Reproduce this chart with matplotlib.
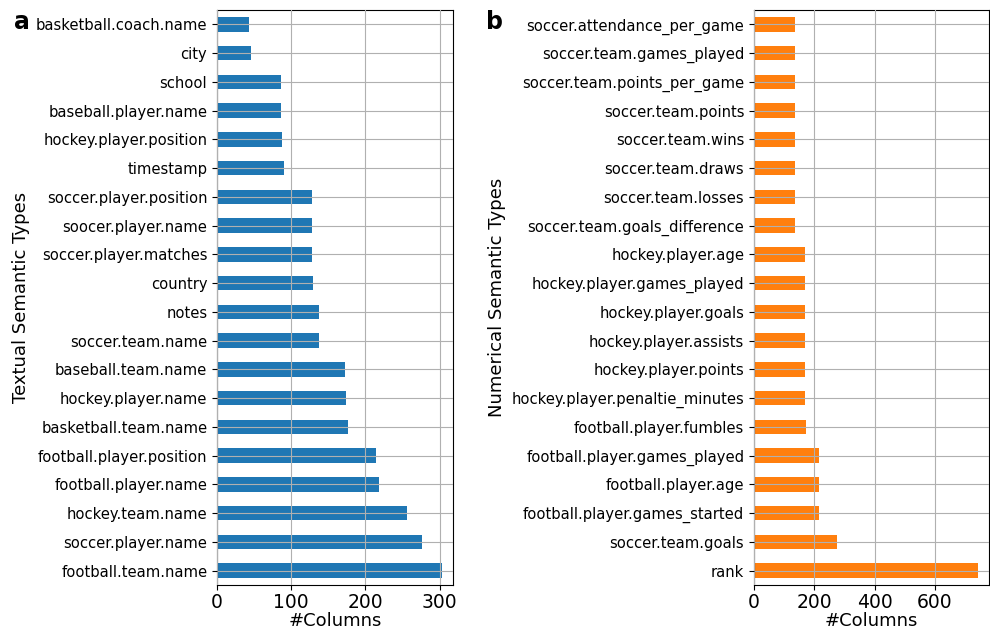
import matplotlib
matplotlib.use("Agg")
import matplotlib.pyplot as plt

# textual types, bottom-to-top as drawn
text_types = ["football.team.name", "soccer.player.name", "hockey.team.name",
              "football.player.name", "football.player.position", "basketball.team.name",
              "hockey.player.name", "baseball.team.name", "soccer.team.name", "notes",
              "country", "soccer.player.matches", "soocer.player.name",
              "soccer.player.position", "timestamp", "hockey.player.position",
              "baseball.player.name", "school", "city", "basketball.coach.name"]
text_counts = [303, 276, 256, 219, 215, 177, 174, 173, 138, 138,
               129, 128, 128, 128, 90, 87, 86, 86, 46, 43]

num_types = ["rank", "soccer.team.goals", "football.player.games_started",
             "football.player.age", "football.player.games_played",
             "football.player.fumbles", "hockey.player.penaltie_minutes",
             "hockey.player.points", "hockey.player.assists", "hockey.player.goals",
             "hockey.player.games_played", "hockey.player.age",
             "soccer.team.goals_difference", "soccer.team.losses", "soccer.team.draws",
             "soccer.team.wins", "soccer.team.points", "soccer.team.points_per_game",
             "soccer.team.games_played", "soccer.attendance_per_game"]
num_counts = [742, 274, 214, 214, 214, 172, 170, 170, 170, 170,
              170, 170, 135, 135, 135, 135, 135, 135, 135, 135]

fig = plt.figure(figsize=(9.9, 6.32), dpi=100)
ax1 = fig.add_axes([217 / 990, 47 / 632, 236 / 990, 575 / 632])
ax2 = fig.add_axes([754 / 990, 47 / 632, 235 / 990, 575 / 632])


def draw(ax, names, counts, color, ylabel, xticks):
    y = range(len(names))
    ax.barh(y, counts, height=0.5, color=color)
    ax.set_yticks(list(y))
    ax.set_yticklabels(names, fontsize=10.6)
    ax.set_ylim(-0.5, len(names) - 0.5)
    ax.set_xlim(0, max(counts) * 1.05)
    ax.set_xticks(xticks)
    ax.tick_params(axis="x", labelsize=13.5, pad=2)
    ax.set_xlabel("#Columns", fontsize=13, labelpad=0)
    ax.set_ylabel(ylabel, fontsize=13)
    ax.grid(True, color="#b0b0b0", linewidth=0.8)
    ax.set_axisbelow(False)


draw(ax1, text_types, text_counts, "#1f77b4", "Textual Semantic Types", [0, 100, 200, 300])
draw(ax2, num_types, num_counts, "#ff7f0e", "Numerical Semantic Types", [0, 200, 400, 600])

fig.text(22 / 990, 1 - 22 / 632, "a", fontsize=17, fontweight="bold", ha="center", va="center")
fig.text(495 / 990, 1 - 22 / 632, "b", fontsize=17, fontweight="bold", ha="center", va="center")

fig.savefig("out.png", dpi=100)
